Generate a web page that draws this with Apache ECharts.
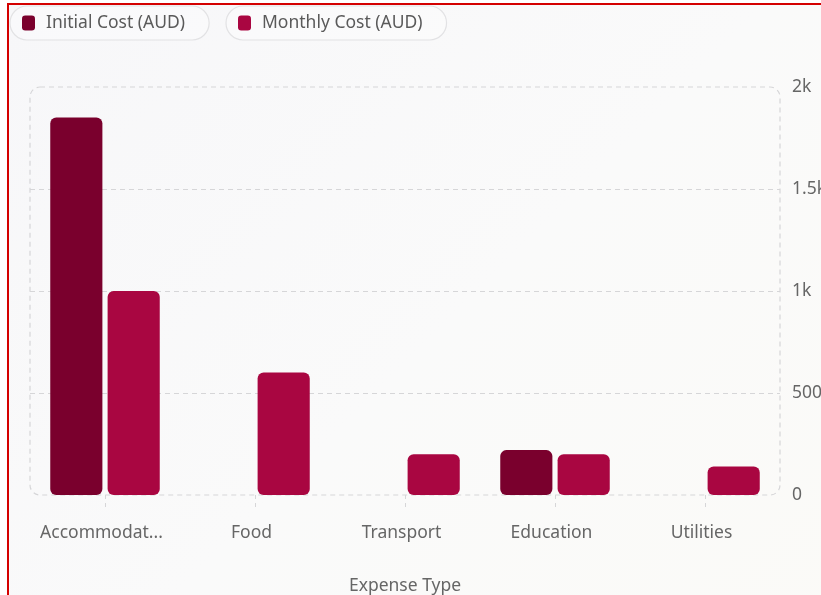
<!DOCTYPE html>
<html>
<head>
<meta charset="utf-8">
<script src="https://cdn.jsdelivr.net/npm/echarts@6/dist/echarts.min.js"></script>
<style>
  html, body { margin: 0; padding: 0; overflow: hidden; background: #ffffff; width: 821px; height: 595px; }
  #wrap { position: absolute; left: 7px; top: 3px; width: 880px; height: 640px; border: 2px solid #d40000;
          background: linear-gradient(135deg, #f7f7f9 0%, #fafafa 50%, #fbfaf7 100%); }
  #chart { width: 880px; height: 640px; }
</style>
</head>
<body>
<div id="wrap"><div id="chart"></div></div>
<script>
const categories = ['Accommodation', 'Food', 'Transport', 'Education', 'Utilities'];
const initialCost = [1850, null, null, 220, null];
const monthlyCost = [1000, 600, 200, 200, 140];
const seriesNames = ['Initial Cost (AUD)', 'Monthly Cost (AUD)'];
const yTicks = [0, 500, 1000, 1500, 2000];

const FONT = 'Noto Sans';
const FS = 17.5;
const GRID = { left: 21, top: 82, width: 750, height: 408 };

const chart = echarts.init(document.getElementById('chart'), null, { renderer: 'canvas' });

const legendBase = {
  top: 1,
  padding: [8, 24, 8, 12],
  itemWidth: 13,
  itemHeight: 15,
  icon: 'roundRect',
  borderColor: '#e2e2e4',
  borderWidth: 1.2,
  borderRadius: 17,
  backgroundColor: 'rgba(255,255,255,0.3)',
  textStyle: { fontFamily: FONT, fontSize: FS, color: '#5a5a5a', padding: [0, 0, 0, 6] }
};

chart.setOption({
  animation: false,
  textStyle: { fontFamily: FONT },
  color: ['#7a002d', '#a90641'],
  legend: [
    Object.assign({}, legendBase, { left: 1, data: [seriesNames[0]] }),
    Object.assign({}, legendBase, { left: 217, data: [seriesNames[1]] })
  ],
  grid: Object.assign({ show: false, containLabel: false }, GRID),
  graphic: [{
    type: 'rect',
    silent: true,
    z: 0,
    shape: { x: GRID.left, y: GRID.top, width: GRID.width, height: GRID.height, r: 10 },
    style: { fill: 'none', stroke: '#d6d6d8', lineWidth: 1.2, lineDash: [5, 4] }
  }],
  xAxis: {
    type: 'category',
    data: categories,
    name: 'Expense Type',
    nameLocation: 'middle',
    nameGap: 82,
    nameTextStyle: { fontFamily: FONT, fontSize: FS, color: '#666' },
    axisLine: { show: false },
    axisTick: { show: true, alignWithLabel: true, length: 14, lineStyle: { color: '#d6d6d8', type: [4, 4] } },
    axisLabel: { interval: 0, margin: 29, padding: [0, 7, 0, 0], fontFamily: FONT, fontSize: FS, color: '#666', width: 128, overflow: 'truncate', ellipsis: '...' },
    splitLine: { show: false }
  },
  yAxis: {
    type: 'value',
    position: 'right',
    min: yTicks[0],
    max: yTicks[yTicks.length - 1],
    interval: yTicks[1] - yTicks[0],
    axisLine: { show: false },
    axisTick: { show: false },
    axisLabel: {
      margin: 12, fontFamily: FONT, fontSize: FS, color: '#666',
      formatter: v => v >= 1000 ? (v / 1000) + 'k' : String(v)
    },
    splitLine: { show: true, showMinLine: false, showMaxLine: false, lineStyle: { color: '#d6d6d8', type: [5, 4], width: 1.2 } }
  },
  series: [
    {
      name: seriesNames[0], type: 'bar', data: initialCost,
      barGap: '10%', barCategoryGap: '27%',
      itemStyle: { borderRadius: 6 }
    },
    {
      name: seriesNames[1], type: 'bar', data: monthlyCost,
      barGap: '10%', barCategoryGap: '27%',
      itemStyle: { borderRadius: 6 }
    }
  ]
});
</script>
</body>
</html>
